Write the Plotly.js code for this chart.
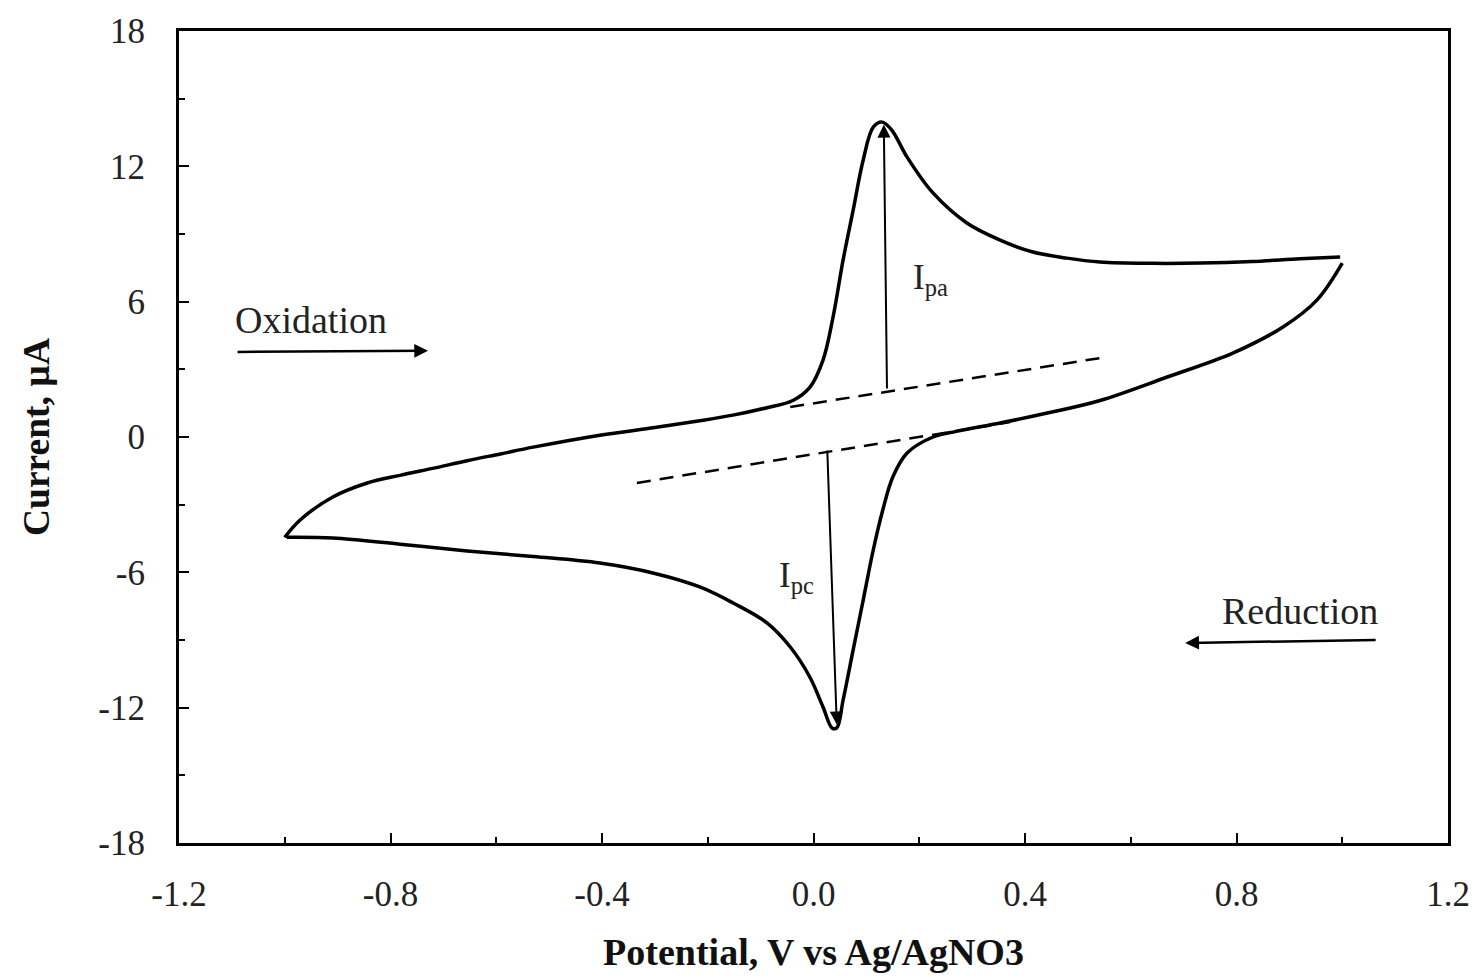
<!DOCTYPE html>
<html>
<head>
<meta charset="utf-8">
<script src="https://cdn.plot.ly/plotly-3.0.1.min.js"></script>
<style>html,body{margin:0;padding:0;background:#fff;}#chart{width:1476px;height:978px;}</style>
</head>
<body>
<div id="chart"></div>
<script>
// Forward (oxidation) scan: -1.0 V -> +1.0 V
const potentialForward = [-1.0, -0.971, -0.909, -0.844, -0.782, -0.718, -0.655, -0.592, -0.530, -0.404, -0.300, -0.215, -0.150, -0.088, -0.039, -0.007, 0.018, 0.037, 0.056, 0.075, 0.094, 0.113, 0.130, 0.148, 0.177, 0.226, 0.290, 0.353, 0.415, 0.479, 0.542, 0.640, 0.731, 0.830, 0.920, 0.996];
const currentForward   = [-4.45, -3.68, -2.66, -2.04, -1.70, -1.38, -1.05, -0.75, -0.45, 0.08, 0.42, 0.72, 0.98, 1.30, 1.62, 2.20, 3.41, 5.32, 7.85, 10.06, 12.28, 13.74, 13.96, 13.61, 12.41, 10.82, 9.49, 8.73, 8.20, 7.93, 7.76, 7.70, 7.71, 7.78, 7.90, 7.98];
// Reverse (reduction) scan: +1.0 V -> -1.0 V
const potentialReverse = [1.0, 0.952, 0.888, 0.793, 0.669, 0.542, 0.440, 0.353, 0.270, 0.226, 0.177, 0.150, 0.131, 0.113, 0.094, 0.075, 0.056, 0.044, 0.035, 0.018, -0.007, -0.044, -0.088, -0.152, -0.215, -0.300, -0.404, -0.530, -0.655, -0.782, -0.909, -0.996];
const currentReverse   = [7.71, 6.07, 4.88, 3.72, 2.66, 1.62, 1.05, 0.62, 0.25, 0.0, -0.71, -1.77, -3.24, -5.01, -7.23, -9.44, -11.66, -12.90, -12.90, -11.97, -10.64, -9.31, -8.24, -7.36, -6.65, -6.05, -5.59, -5.30, -5.05, -4.75, -4.48, -4.45];
// Dashed baselines
const baselineAnodicX   = [-0.044, 0.542];
const baselineAnodicY   = [1.33, 3.50];
const baselineCathodicX = [-0.334, 0.372];
const baselineCathodicY = [-2.04, 0.66];
// Peak-current arrows [tailX, tailY, headX, headY]
const arrowIpa = [0.139, 2.08, 0.133, 13.85];
const arrowIpc = [0.026, -0.53, 0.044, -12.75];
// Scan-direction arrows
const arrowOxidation = [-1.092, 3.77, -0.729, 3.82];
const arrowReduction = [1.066, -9.0, 0.703, -9.13];
// Text labels [x, y]
const labelOxidation = [-0.950, 5.19];
const labelReduction = [0.920, -7.70];
const labelIpa = [0.222, 7.0];
const labelIpc = [-0.033, -6.25];
// Tick labels
const xTickVals = [-1.2, -0.8, -0.4, 0.0, 0.4, 0.8, 1.2];
const xTickText = ['-1.2', '-0.8', '-0.4', '0.0', '0.4', '0.8', '1.2'];
const yTickVals = [-18, -12, -6, 0, 6, 12, 18];
const yTickText = ['-18', '-12', '-6', '0', '6', '12', '18'];

const FONT = 'Liberation Serif, Times New Roman, serif';
const lineStyle = {color: '#000', width: 3.5, shape: 'spline', smoothing: 1};

const traces = [
  {x: potentialForward, y: currentForward, mode: 'lines', line: lineStyle, hoverinfo: 'skip'},
  {x: potentialReverse, y: currentReverse, mode: 'lines', line: lineStyle, hoverinfo: 'skip'},
  {x: baselineAnodicX, y: baselineAnodicY, mode: 'lines', line: {color: '#000', width: 2.5, dash: '14px,9px'}, hoverinfo: 'skip'},
  {x: baselineCathodicX, y: baselineCathodicY, mode: 'lines', line: {color: '#000', width: 2.5, dash: '14px,9px'}, hoverinfo: 'skip'}
];

function arrowAnn(a, width, size) {
  return {x: a[2], y: a[3], ax: a[0], ay: a[1], xref: 'x', yref: 'y', axref: 'x', ayref: 'y',
          text: '', showarrow: true, arrowhead: 2, arrowsize: size, arrowwidth: width, arrowcolor: '#000'};
}
function textAnn(p, txt, size) {
  return {x: p[0], y: p[1], xref: 'x', yref: 'y', text: txt, showarrow: false,
          font: {family: FONT, size: size, color: '#222'}};
}

const layout = {
  width: 1476, height: 978,
  margin: {l: 179, r: 28, t: 31, b: 135},
  paper_bgcolor: '#fff', plot_bgcolor: '#fff',
  showlegend: false,
  font: {family: FONT, size: 35, color: '#222'},
  xaxis: {
    range: [-1.2, 1.2], tickvals: xTickVals, ticktext: xTickText,
    ticks: 'inside', ticklen: 10, tickwidth: 2, tickcolor: '#000',
    minor: {dtick: 0.2, ticks: 'inside', ticklen: 6, tickwidth: 2, tickcolor: '#000'},
    showline: true, linewidth: 3, linecolor: '#000', mirror: true,
    showgrid: false, zeroline: false, ticklabelstandoff: 18,
    tickfont: {family: FONT, size: 35, color: '#222'},
    title: {text: '<b>Potential, V vs Ag/AgNO3</b>', font: {family: FONT, size: 38, color: '#111'}, standoff: 26}
  },
  yaxis: {
    range: [-18, 18], tickvals: yTickVals, ticktext: yTickText,
    ticks: 'inside', ticklen: 10, tickwidth: 2, tickcolor: '#000',
    minor: {dtick: 3, ticks: 'inside', ticklen: 6, tickwidth: 2, tickcolor: '#000'},
    showline: true, linewidth: 3, linecolor: '#000', mirror: true,
    showgrid: false, zeroline: false, ticklabelstandoff: 24,
    tickfont: {family: FONT, size: 35, color: '#222'},
    title: {text: '<b>Current, µA</b>', font: {family: FONT, size: 37.5, color: '#111'}, standoff: 38}
  },
  annotations: [
    arrowAnn(arrowIpa, 2, 1.3),
    arrowAnn(arrowIpc, 2, 1.3),
    arrowAnn(arrowOxidation, 2.5, 1.1),
    arrowAnn(arrowReduction, 2.5, 1.1),
    textAnn(labelOxidation, 'Oxidation', 38),
    textAnn(labelReduction, 'Reduction', 38),
    textAnn(labelIpa, 'I<sub>pa</sub>', 35),
    textAnn(labelIpc, 'I<sub>pc</sub>', 35)
  ]
};

Plotly.newPlot('chart', traces, layout, {staticPlot: true, displayModeBar: false});
</script>
</body>
</html>
